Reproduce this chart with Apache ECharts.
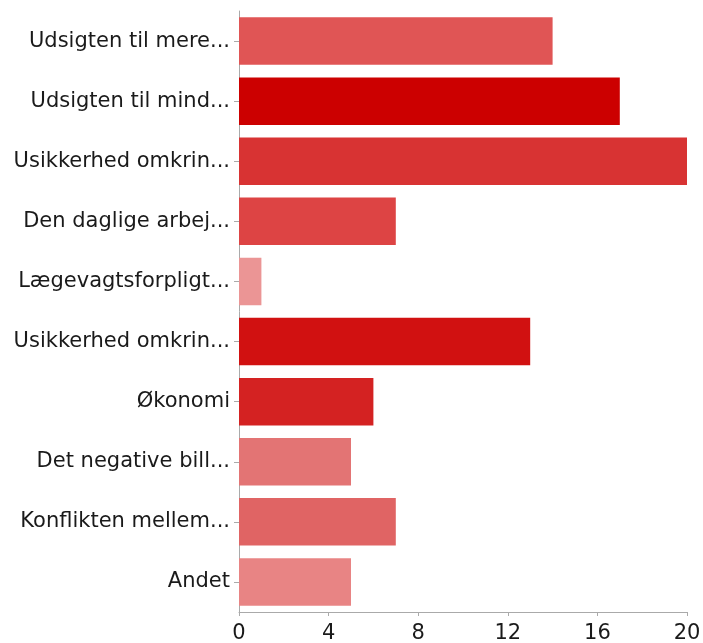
<!DOCTYPE html>
<html>
<head>
<meta charset="utf-8">
<script src="https://cdn.jsdelivr.net/npm/echarts@6/dist/echarts.min.js"></script>
<style>
  html, body { margin: 0; padding: 0; background: #fff; }
  #chart { width: 703px; height: 643px; }
</style>
</head>
<body>
<div id="chart"></div>
<script>
var categories = [
    'Udsigten til mere...',
    'Udsigten til mind...',
    'Usikkerhed omkrin...',
    'Den daglige arbej...',
    'Lægevagtsforpligt...',
    'Usikkerhed omkrin...',
    'Økonomi',
    'Det negative bill...',
    'Konflikten mellem...',
    'Andet'
];
var values = [14, 17, 20, 7, 1, 13, 6, 5, 7, 5];
var barColors = [
    '#e05555', '#cc0000', '#d83333', '#dd4444', '#eb9595',
    '#d11111', '#d42222', '#e37474', '#e06464', '#e88484'
];
var xTicks = [0, 4, 8, 12, 16, 20];

var chart = echarts.init(document.getElementById('chart'));

var option = {
    animation: false,
    textStyle: { fontFamily: 'DejaVu Sans' },
    grid: { left: 239, right: 16, top: 11, height: 601, outerBoundsMode: 'none' },
    xAxis: {
        type: 'value',
        min: xTicks[0],
        max: xTicks[xTicks.length - 1],
        interval: 4,
        splitLine: { show: false },
        axisLine: { show: true, lineStyle: { color: '#aaa', width: 1 } },
        axisTick: { show: true, length: 4, lineStyle: { color: '#aaa' } },
        axisLabel: { color: '#1a1a1a', fontSize: 21, margin: 11 }
    },
    yAxis: {
        type: 'category',
        inverse: true,
        data: categories,
        axisLine: { show: true, lineStyle: { color: '#aaa', width: 1 } },
        axisTick: { show: true, length: 5, alignWithLabel: true, lineStyle: { color: '#aaa' } },
        axisLabel: { color: '#1a1a1a', fontSize: 21, margin: 9 }
    },
    series: [{
        type: 'bar',
        barCategoryGap: '21%',
        data: values.map(function (v, i) {
            return { value: v, itemStyle: { color: barColors[i] } };
        })
    }]
};

chart.setOption(option);
window.onresize = chart.resize;
</script>
</body>
</html>
